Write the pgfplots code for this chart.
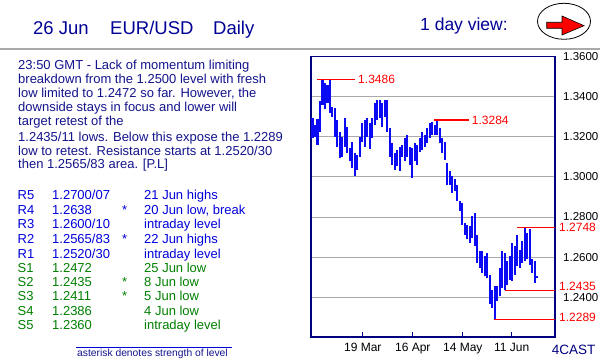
\documentclass[border=0pt]{standalone}
\usepackage{pgfplots}
\pgfplotsset{compat=1.18}
\usepackage{pgfplotstable}
\usepackage{fontspec}
\setmainfont{Liberation Sans}
\definecolor{navy}{RGB}{0,0,128}
\definecolor{titleblue}{RGB}{0,0,150}
\definecolor{txtblue}{RGB}{20,20,140}
\definecolor{rblue}{RGB}{0,0,220}
\definecolor{sgreen}{RGB}{0,128,0}
\definecolor{barblue}{RGB}{10,10,245}
\definecolor{gridgray}{RGB}{170,170,170}
\newcommand{\fs}[1]{\fontsize{#1}{#1}\selectfont}

\pgfplotstableread{
k hi lo
0 1.3292 1.3195
1 1.3260 1.3200
2 1.3290 1.3160
3 1.3378 1.3225
4 1.3486 1.3360
5 1.3466 1.3340
6 1.3458 1.3367
7 1.3486 1.3317
8 1.3350 1.3300
9 1.3342 1.3200
10 1.3284 1.3150
11 1.3226 1.3095
12 1.3201 1.3100
13 1.3292 1.3150
14 1.3251 1.3118
15 1.3143 1.3077
16 1.3176 1.3043
17 1.3118 1.3002
18 1.3110 1.3035
19 1.3201 1.3100
20 1.3267 1.3176
21 1.3284 1.3151
22 1.3292 1.3201
23 1.3270 1.3140
24 1.3293 1.3193
25 1.3367 1.3259
26 1.3384 1.3284
27 1.3384 1.3292
28 1.3367 1.3251
29 1.3384 1.3300
30 1.3384 1.3226
31 1.3243 1.3101
32 1.3168 1.3060
33 1.3118 1.3035
34 1.3135 1.3052
35 1.3151 1.3027
36 1.3160 1.3101
37 1.3193 1.3077
38 1.3209 1.3101
39 1.3151 1.3060
40 1.3143 1.2994
41 1.3168 1.3077
42 1.3160 1.3060
43 1.3193 1.3126
44 1.3226 1.3135
45 1.3209 1.3151
46 1.3243 1.3168
47 1.3268 1.3193
48 1.3276 1.3209
49 1.3260 1.3209
50 1.3284 1.3209
51 1.3243 1.3168
52 1.3193 1.3118
53 1.3176 1.3085
54 1.3069 1.2961
55 1.3027 1.2961
56 1.3002 1.2919
57 1.2990 1.2930
58 1.2961 1.2878
59 1.2878 1.2828
60 1.2870 1.2762
61 1.2770 1.2712
62 1.2762 1.2688
63 1.2753 1.2672
64 1.2803 1.2696
65 1.2820 1.2654
66 1.2712 1.2571
67 1.2629 1.2546
68 1.2629 1.2521
69 1.2604 1.2504
70 1.2621 1.2496
71 1.2513 1.2364
72 1.2438 1.2347
73 1.2455 1.2289
74 1.2455 1.2381
75 1.2546 1.2405
76 1.2629 1.2446
77 1.2621 1.2435
78 1.2579 1.2460
79 1.2604 1.2488
80 1.2671 1.2479
81 1.2654 1.2513
82 1.2712 1.2554
83 1.2638 1.2546
84 1.2679 1.2571
85 1.2748 1.2579
86 1.2720 1.2590
87 1.2742 1.2560
88 1.2590 1.2521
89 1.2580 1.2472
90 1.2505 1.2495
}\bars

\begin{document}
\begin{tikzpicture}[x=1pt,y=1pt]
\useasboundingbox (0,0) rectangle (600,361);
\fill[white] (0,0) rectangle (600,361);
% header
\draw[gridgray, line width=1.5pt] (0,312) -- (600,312);
\node[anchor=base west, inner sep=0pt, font=\fs{18.5}, titleblue] at (33,326) {26 Jun};
\node[anchor=base west, inner sep=0pt, font=\fs{18.5}, titleblue] at (110,326) {EUR/USD};
\node[anchor=base west, inner sep=0pt, font=\fs{18.5}, titleblue] at (213,326) {Daily};
\node[anchor=base west, inner sep=0pt, font=\fs{17.5}, titleblue] at (420,330.3) {1 day view:};
\draw[black, line width=0.8pt] (564pt,339.7pt) ellipse [x radius=26.5pt, y radius=18pt];
\filldraw[fill=red, draw=black, line width=0.6pt] (546.7,338.7) -- (562,338.7) -- (562,345) -- (584,335.3) -- (562,326) -- (562,332.7) -- (546.7,332.7) -- cycle;
% commentary
\begin{scope}[every node/.style={anchor=base west, inner sep=0pt, font=\fs{13}, txtblue}]
\node at (18,291.7) {23:50 GMT - Lack of momentum limiting};
\node at (18,277.5) {breakdown from the 1.2500 level with fresh};
\node at (18,263.5) {low limited to 1.2472 so far. However, the};
\node at (18,249.5) {downside stays in focus and lower will};
\node at (18,235.5) {target retest of the};
\node at (18,219.2) {1.2435/11 lows. Below this expose the 1.2289};
\node at (18,205.5) {low to retest. Resistance starts at 1.2520/30};
\node at (18,192) {then 1.2565/83 area. [P.L]};
\end{scope}
% levels table
\begin{scope}[every node/.style={anchor=base west, inner sep=0pt, font=\fs{13}}]
\foreach \lab/\val/\st/\desc/\yy/\col in {
 R5/1.2700\slash07//21 Jun highs/161.7/rblue,
 R4/1.2638/*/{20 Jun low, break}/146.3/rblue,
 R3/1.2600\slash10//intraday level/132/rblue,
 R2/1.2565\slash83/*/22 Jun highs/117.7/rblue,
 R1/1.2520\slash30//intraday level/102.7/rblue,
 S1/1.2472//25 Jun low/88.7/sgreen,
 S2/1.2435/*/8 Jun low/74.3/sgreen,
 S3/1.2411/*/5 Jun low/60/sgreen,
 S4/1.2386//4 Jun low/45.3/sgreen,
 S5/1.2360//intraday level/31/sgreen}{
 \node[text=\col] at (17.5,\yy) {\lab};
 \node[text=\col] at (52,\yy) {\val};
 \node[text=\col] at (122,\yy) {\st};
 \node[text=\col] at (144,\yy) {\desc};
}
\end{scope}
\draw[rblue, line width=1pt] (76,13.7) -- (232,13.7);
\node[anchor=base west, inner sep=0pt, font=\fs{10.3}, txtblue] at (77,4) {asterisk denotes strength of level};
\node[anchor=base west, inner sep=0pt, font=\fs{13.5}, navy] at (551.7,6) {4CAST};

\begin{axis}[
  at={(311pt,24pt)}, anchor=south west,
  scale only axis, width=244pt, height=280.5pt,
  xmin=-0.52, xmax=97.1, ymin=1.2202, ymax=1.36,
  clip=false,
  axis line style={navy, line width=1.3pt},
  ytick={1.24,1.26,1.28,1.30,1.32,1.34,1.36},
  ymajorgrids, grid style={gridgray, line width=0.9pt},
  yticklabel pos=right,
  y tick style={draw=none},
  yticklabel style={font=\fs{11.5}, black, anchor=west, inner sep=0pt, xshift=8pt,
    /pgf/number format/.cd, fixed, fixed zerofill, precision=4, assume math mode=true},
  xtick={20.2,40.2,60.2,79.8},
  xticklabels={19 Mar,16 Apr,14 May,11 Jun},
  xtick pos=left, tick align=inside, major tick length=5pt,
  x tick style={navy, line width=1pt},
  xticklabel style={font=\fs{12}, black, anchor=base, yshift=-14.5pt},
]
\addplot[draw=none, mark=none, error bars/.cd, y dir=plus, y explicit, error mark=none,
  error bar style={draw=barblue, line width=2.4pt, solid}]
  table[x=k, y=lo, y error expr=\thisrow{hi}-\thisrow{lo}] {\bars};
\addplot[red, line width=1.2pt] coordinates {(2,1.3486) (17.1,1.3486)};
\addplot[red, line width=1.2pt] coordinates {(48.8,1.3284) (62.7,1.3284)};
\addplot[red, line width=1.2pt] coordinates {(82,1.2748) (97.1,1.2748)};
\addplot[red, line width=1.2pt] coordinates {(77,1.2435) (97.1,1.2435)};
\addplot[red, line width=1.2pt] coordinates {(72.8,1.2289) (97.1,1.2289)};
\node[red, anchor=west, inner sep=0pt, font=\fs{12}] at (axis cs:18.3,1.3486) {1.3486};
\node[red, anchor=west, inner sep=0pt, font=\fs{12}] at (axis cs:63.8,1.3284) {1.3284};
\node[red, anchor=west, inner sep=0pt, font=\fs{12}, xshift=4pt] at (axis cs:97.1,1.2748) {1.2748};
\node[red, anchor=west, inner sep=0pt, font=\fs{12}, xshift=4pt, yshift=3.5pt] at (axis cs:97.1,1.2435) {1.2435};
\node[red, anchor=west, inner sep=0pt, font=\fs{12}, xshift=4pt, yshift=2.5pt] at (axis cs:97.1,1.2289) {1.2289};
\end{axis}
\end{tikzpicture}
\end{document}
